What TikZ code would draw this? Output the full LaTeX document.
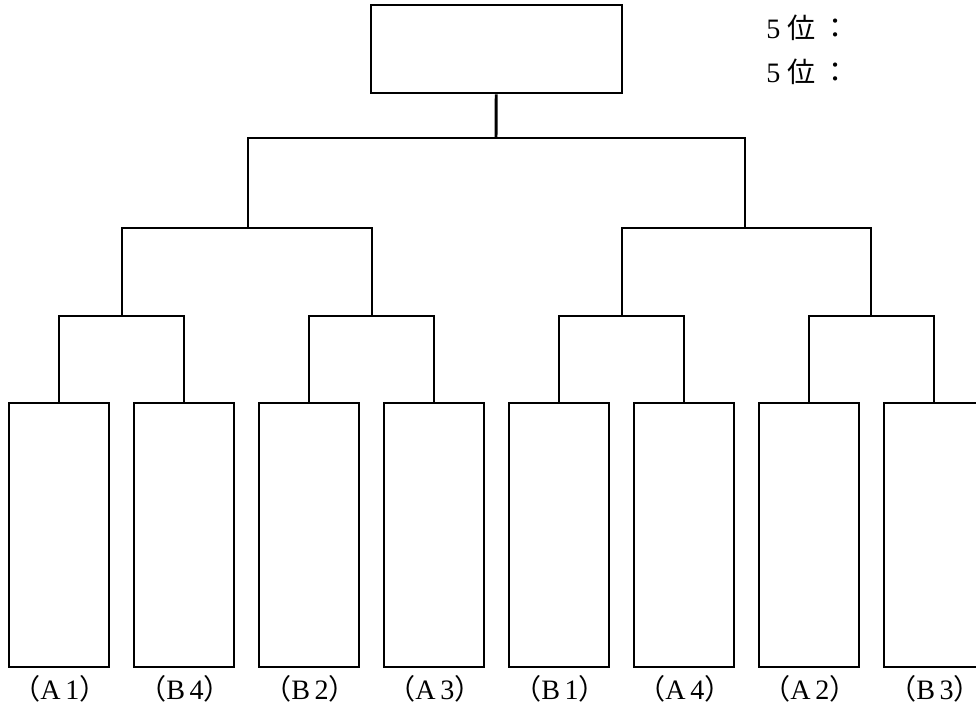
\documentclass[tikz,border=0pt]{standalone}
\usepackage{fontspec}
\setmainfont{Liberation Serif}
\newfontfamily\jpfont{Noto Sans CJK JP}
\usetikzlibrary{positioning}
\newcommand{\kakko}[1]{\llap{\jpfont （}#1\rlap{\jpfont ）}}

\begin{document}
\begin{tikzpicture}[x=0.25mm,y=-0.25mm,
  cell/.style={draw,line width=2.1pt,minimum width=100*0.25mm,minimum height=264*0.25mm,inner sep=0pt},
  top/.style={draw,line width=2.1pt,minimum width=251*0.25mm,minimum height=88*0.25mm,inner sep=0pt},
  lab/.style={font=\fontsize{20}{24}\selectfont,inner sep=0pt},
  rank/.style={font=\fontsize{20}{24}\selectfont,inner sep=0pt,anchor=west},
  ln/.style={line width=2.1pt}
]
\useasboundingbox (0,0) rectangle (976,708);
% sommet
\node[top] (champ) at (496.5,49) {};
\node[rank] (r1) at (766,28) {5\hspace{0.25em}{\jpfont 位}\hspace{0.2em}{\jpfont ：}};
\node[rank] (r2) at (766,72) {5\hspace{0.25em}{\jpfont 位}\hspace{0.2em}{\jpfont ：}};
% cases du bas
\foreach \t [count=\i] in {A\,1,B\,4,B\,2,A\,3,B\,1,A\,4,A\,2,B\,3} {
  \node[cell] (b\i) at ({59+125*(\i-1)},535) {};
  \node[lab] (t\i) at ({60+125*(\i-1)},689) {\kakko{\t}};
}
% jonctions
\coordinate (j0) at (496,138);
\coordinate (k1) at (248,228);
\coordinate (k2) at (745,228);
\coordinate (m1) at (122,316);
\coordinate (m2) at (372,316);
\coordinate (m3) at (622,316);
\coordinate (m4) at (871,316);
% traits
\draw[ln] (champ) -- (j0);
\draw[ln] (k1) |- (j0) -| (k2);
\draw[ln] (m1) |- (k1) -| (m2);
\draw[ln] (m3) |- (k2) -| (m4);
\draw[ln] (b1.north) |- (m1) -| (b2.north);
\draw[ln] (b3.north) |- (m2) -| (b4.north);
\draw[ln] (b5.north) |- (m3) -| (b6.north);
\draw[ln] (b7.north) |- (m4) -| (b8.north);
\end{tikzpicture}
\end{document}
